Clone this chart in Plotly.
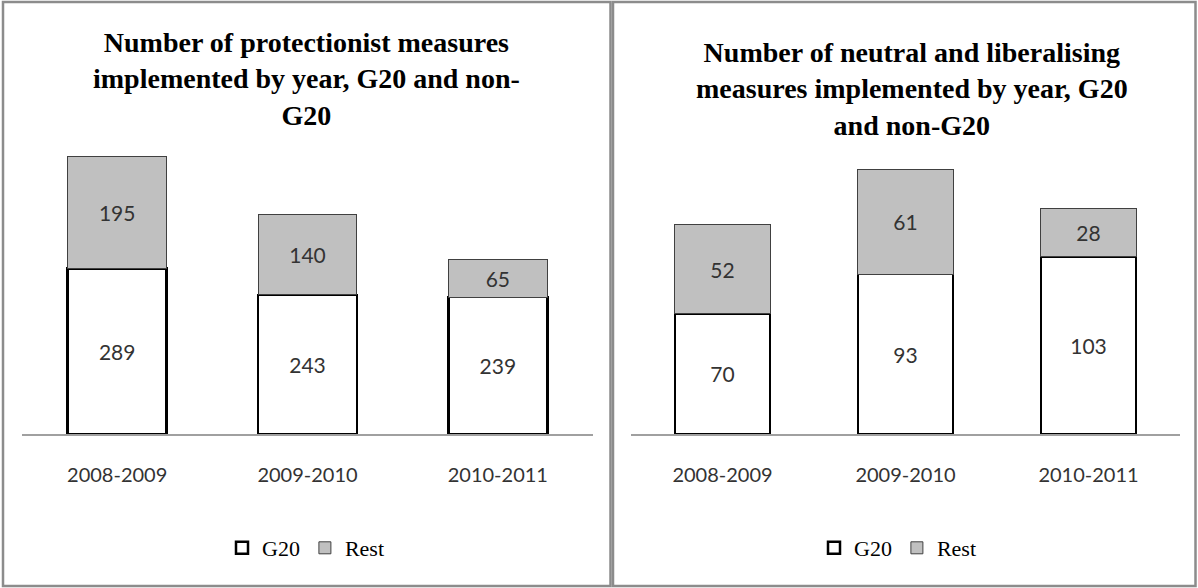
import plotly.graph_objects as go

# ---- data ----
categories = ["2008-2009", "2009-2010", "2010-2011"]
g20_protectionist = [289, 243, 239]
rest_protectionist = [195, 140, 65]
g20_liberalising = [70, 93, 103]
rest_liberalising = [52, 61, 28]
series_names = ["G20", "Rest"]
titles = [
    "Number of protectionist measures<br>implemented by year, G20 and non-<br>G20",
    "Number of neutral and liberalising<br>measures implemented by year, G20<br>and non-G20",
]

W, H = 1198, 588


def px_x(p):
    return p / W


def px_y(p):
    return 1 - p / H


SANS = "Lato"
SERIF = "Liberation Serif"
label_font = dict(family=SANS, size=21, color="#333333")

fig = go.Figure()


def add_pair(g20, rest, xa, ya, leg):
    fig.add_trace(go.Bar(
        x=categories, y=g20, name=series_names[0], xaxis=xa, yaxis=ya, legend=leg,
        marker=dict(color="white", line=dict(color="black", width=2.5)),
        text=g20, textposition="inside", insidetextanchor="middle",
        textangle=0, constraintext="none", textfont=label_font,
    ))
    fig.add_trace(go.Bar(
        x=categories, y=rest, name=series_names[1], xaxis=xa, yaxis=ya, legend=leg,
        marker=dict(color="#c0c0c0", line=dict(color="#404040", width=1)),
        text=rest, textposition="inside", insidetextanchor="middle",
        textangle=0, constraintext="none", textfont=label_font,
    ))


add_pair(g20_protectionist, rest_protectionist, "x", "y", "legend")
add_pair(g20_liberalising, rest_liberalising, "x2", "y2", "legend2")

xcommon = dict(
    showline=True, linecolor="#a0a0a0", linewidth=2, showgrid=False, zeroline=False,
    ticks="", tickfont=dict(family=SANS, size=20, color="#333333"),
    ticklabelstandoff=22, fixedrange=True,
)

legcommon = dict(
    orientation="h", xanchor="center", yanchor="middle", y=px_y(548),
    font=dict(family=SERIF, size=22, color="black"), traceorder="normal",
    bgcolor="rgba(0,0,0,0)", itemclick=False, itemdoubleclick=False,
    itemwidth=30,
)

title_font = dict(family=SERIF, size=28, color="black", weight="bold")

fig.update_layout(
    width=W, height=H, autosize=False,
    margin=dict(l=0, r=0, t=0, b=0),
    paper_bgcolor="white", plot_bgcolor="white",
    barmode="stack", bargap=0.48,
    showlegend=True,
    xaxis=dict(domain=[px_x(22), px_x(593)], anchor="y", **xcommon),
    yaxis=dict(domain=[px_y(434), px_y(147.5)], range=[0, 500], visible=False),
    xaxis2=dict(domain=[px_x(631), px_x(1180)], anchor="y2", **xcommon),
    yaxis2=dict(domain=[px_y(434), px_y(159)], range=[0, 160], visible=False),
    legend=dict(x=px_x(306), **legcommon),
    legend2=dict(x=px_x(898), **legcommon),
    annotations=[
        dict(text=titles[0], x=px_x(306), y=px_y(79), xref="paper", yref="paper",
             xanchor="center", yanchor="middle", showarrow=False, font=title_font),
        dict(text=titles[1], x=px_x(912), y=px_y(89), xref="paper", yref="paper",
             xanchor="center", yanchor="middle", showarrow=False, font=title_font),
    ],
    shapes=[
        dict(type="rect", xref="paper", yref="paper",
             x0=px_x(3), x1=px_x(610.5), y0=px_y(586), y1=px_y(2),
             line=dict(color="#8c8c8c", width=2.5)),
        dict(type="rect", xref="paper", yref="paper",
             x0=px_x(613), x1=px_x(1195.5), y0=px_y(586), y1=px_y(2),
             line=dict(color="#8c8c8c", width=2.5)),
    ],
)

fig.write_html("out.html")
